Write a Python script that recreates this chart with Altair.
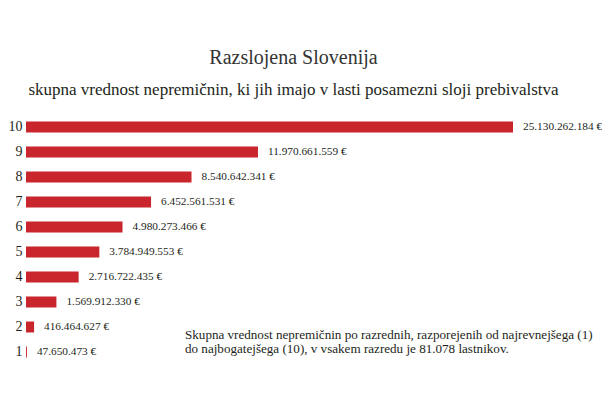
import altair as alt
import pandas as pd

# --- podatki ---
sloji = ["10", "9", "8", "7", "6", "5", "4", "3", "2", "1"]
vrednosti = [
    25130262184, 11970661559, 8540642341, 6452561531, 4980273466,
    3784949553, 2716722435, 1569912330, 416464627, 47650473,
]

naslov = "Razslojena Slovenija"
podnaslov = "skupna vrednost nepremičnin, ki jih imajo v lasti posamezni sloji prebivalstva"
opomba = [
    "Skupna vrednost nepremičnin po razrednih, razporejenih od najrevnejšega (1)",
    "do najbogatejšega (10), v vsakem razredu je 81.078 lastnikov.",
]

df = pd.DataFrame({"sloj": sloji, "vrednost": vrednosti})
df["oznaka"] = df["vrednost"].map(lambda v: f"{v:,}".replace(",", ".") + " €")

FONT = "Liberation Serif"
RDECA = "#c9252d"
TEMNA = "#231f20"

y = alt.Y(
    "sloj:N",
    sort=sloji,
    scale=alt.Scale(paddingInner=0.56, paddingOuter=0.28),
    axis=alt.Axis(
        title=None, ticks=False, domain=False, labelFontSize=14,
        labelPadding=4, labelColor=TEMNA, labelFont=FONT,
    ),
)
x = alt.X(
    "vrednost:Q",
    scale=alt.Scale(domain=[0, vrednosti[0]], nice=False),
    axis=None,
)

bars = alt.Chart(df).mark_bar(color=RDECA).encode(x=x, y=y)

labels = alt.Chart(df).mark_text(
    align="left", baseline="middle", dx=10, fontSize=11.3, font=FONT, color=TEMNA
).encode(x=x, y=y, text="oznaka:N")

note = alt.Chart(pd.DataFrame({"a": [0]})).mark_text(
    align="left", baseline="middle", fontSize=13.1, font=FONT, color=TEMNA,
    lineHeight=14,
).encode(x=alt.value(159), y=alt.value(220), text=alt.value(opomba))

chart = alt.layer(bars, labels, note).properties(
    width=487,
    height=250,
    autosize=alt.AutoSizeParams(type="none"),
    padding={"left": 18, "top": 106.5, "right": 89, "bottom": 27.5},
    title=alt.TitleParams(
        text=naslov,
        subtitle=podnaslov,
        anchor="middle",
        dx=24,
        font=FONT,
        fontSize=20,
        fontWeight="normal",
        color="#333333",
        subtitleFont=FONT,
        subtitleFontSize=17,
        subtitleColor=TEMNA,
        subtitlePadding=14,
        offset=17,
    ),
).configure(
    background="#ffffff",
    view=alt.ViewConfig(strokeWidth=0, stroke="transparent"),
)

chart.save("out.html", embed_options={"renderer": "svg", "actions": False})
